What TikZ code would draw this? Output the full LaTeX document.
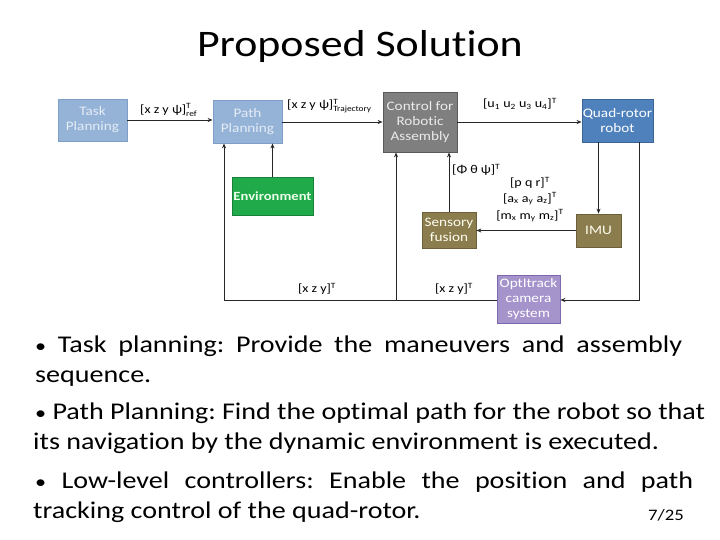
\documentclass[tikz,border=0pt]{standalone}
\usepackage{fontspec}
\usepackage{amsmath}
\setmainfont{Carlito}[FakeStretch=1.17, Ligatures=NoCommon]
\usetikzlibrary{arrows.meta,calc}
\definecolor{lbfill}{HTML}{95B3D7}
\definecolor{lbdraw}{HTML}{7F9FC8}
\definecolor{lbtext}{HTML}{E4ECF6}
\definecolor{gyfill}{HTML}{7F7F7F}
\definecolor{gydraw}{HTML}{5A5A5A}
\definecolor{qfill}{HTML}{4F81BD}
\definecolor{qdraw}{HTML}{3B6596}
\definecolor{efill}{HTML}{21AA4A}
\definecolor{edraw}{HTML}{17803A}
\definecolor{ofill}{HTML}{8B7D4E}
\definecolor{odraw}{HTML}{6B603A}
\definecolor{pfill}{HTML}{A593CC}
\definecolor{pdraw}{HTML}{7C68AC}
\newcommand{\smbul}{{\fontsize{19}{20}\selectfont•}}
\tikzset{
  blk/.style={draw, line width=0.8pt, align=center, inner sep=0pt,
    font=\fontsize{13}{15}\selectfont},
  lbl/.style={font=\fontsize{12}{14}\selectfont, inner sep=0pt, align=center},
  conn/.style={line width=0.9pt, draw=black!85, -{Stealth[length=5pt,width=4pt]}},
  line/.style={line width=0.9pt, draw=black!85},
  bul/.style={anchor=base west, inner sep=0pt, font=\fontsize{24}{27}\selectfont},
}
\begin{document}
\frenchspacing
\begin{tikzpicture}[x=1pt,y=-1pt]
\useasboundingbox (0,0) rectangle (720,540);
\fill[white] (0,0) rectangle (720,540);
% title
\node[anchor=base, inner sep=0pt, font=\fontsize{37.5}{40}\selectfont] (title) at (360,57) {Proposed Solution};
% blocks
\node[blk, fill=lbfill, draw=lbdraw, text=lbtext, minimum width=69pt, minimum height=42pt] (task) at (92.5,120) {Task\\Planning};
\node[blk, fill=lbfill, draw=lbdraw, text=lbtext, minimum width=69pt, minimum height=43pt] (path) at (247.5,121.5) {Path\\Planning};
\node[blk, fill=gyfill, draw=gydraw, text=white!92!black, minimum width=74pt, minimum height=60pt] (ctrl) at (420,122) {Control for\\Robotic\\Assembly};
\node[blk, fill=qfill, draw=qdraw, text=white, minimum width=71pt, minimum height=43pt] (quad) at (617.5,120.5) {Quad-rotor\\robot};
\node[blk, fill=efill, draw=edraw, text=white!92!green, minimum width=81pt, minimum height=38pt, font=\fontsize{12.5}{14}\selectfont\bfseries] (env) at (272.5,196) {Environment};
\node[blk, fill=ofill, draw=odraw, text=white!94!yellow, minimum width=54pt, minimum height=36pt] (sens) at (449,230) {Sensory\\fusion};
\node[blk, fill=ofill, draw=odraw, text=white!94!yellow, minimum width=45pt, minimum height=33pt] (imu) at (598.5,230.5) {IMU};
\node[blk, fill=pfill, draw=pdraw, text=white, minimum width=63pt, minimum height=48pt] (opt) at (528.5,299) {OptItrack\\camera\\system};
% connectors
\draw[conn] (task.east) -- (task.east -| path.west);
\draw[conn] (path.east |- ctrl.east) -- (ctrl.west);
\draw[conn] (ctrl.east) -- (ctrl.east -| quad.west);
\draw[conn] (env.north) -- (env.north |- path.south);
\coordinate (jl) at (224,300);
\coordinate (jm) at (396,300);
\coordinate (jr) at (639,300);
\draw[line] (opt.west |- jl) -- (jl);
\draw[conn] (jl) -- (jl |- path.south);
\draw[conn] (jm) -- (jm |- ctrl.south);
\draw[conn] (sens.north) -- (sens.north |- ctrl.south);
\draw[conn] (imu.west) -- (imu.west -| sens.east);
\draw[conn] (imu.north |- quad.south) -- (imu.north);
\draw[conn] (jr |- quad.south) -- (jr) -- (jr -| opt.east);
% labels
\node[lbl, anchor=west] (l1) at (140,110) {[x z y ψ]$^{\text{T}}_{\text{ref}}$};
\node[lbl, anchor=west] (l2) at (287,106) {[x z y ψ]$^{\text{T}}_{\text{Trajectory}}$};
\node[lbl] (l3) at (520,104) {[u$_{\text{1}}$ u$_{\text{2}}$ u$_{\text{3}}$ u$_{\text{4}}$]$^{\text{T}}$};
\node[lbl, anchor=west] (l4) at (452,170) {[Φ θ ψ]$^{\text{T}}$};
\node[lbl] (l5) at (530,183) {[p q r]$^{\text{T}}$};
\node[lbl] (l6) at (530,199) {[a$_{\text{x}}$ a$_{\text{y}}$ a$_{\text{z}}$]$^{\text{T}}$};
\node[lbl] (l7) at (530,216) {[m$_{\text{x}}$ m$_{\text{y}}$ m$_{\text{z}}$]$^{\text{T}}$};
\node[lbl] (l8) at (317,289) {[x z y]$^{\text{T}}$};
\node[lbl] (l9) at (454,289) {[x z y]$^{\text{T}}$};
% bullets
\node[bul] (b1) at (35,352) {\makebox[647pt][s]{\smbul{} Task planning: Provide the maneuvers and assembly}};
\node[bul] (b2) at (35,382) {sequence.};
\node[bul] (b3) at (35,419) {\makebox[670pt][s]{\smbul{} Path Planning: Find the optimal path for the robot so that}};
\node[bul] (b4) at (33,449) {its navigation by the dynamic environment is executed.};
\node[bul] (b5) at (35,488) {\makebox[658pt][s]{\smbul{} Low-level controllers: Enable the position and path}};
\node[bul] (b6) at (33,518) {tracking control of the quad-rotor.};
\node[anchor=base west, inner sep=0pt, font=\fontsize{16}{18}\selectfont] (pg) at (648,520) {7/25};
\end{tikzpicture}
\end{document}
